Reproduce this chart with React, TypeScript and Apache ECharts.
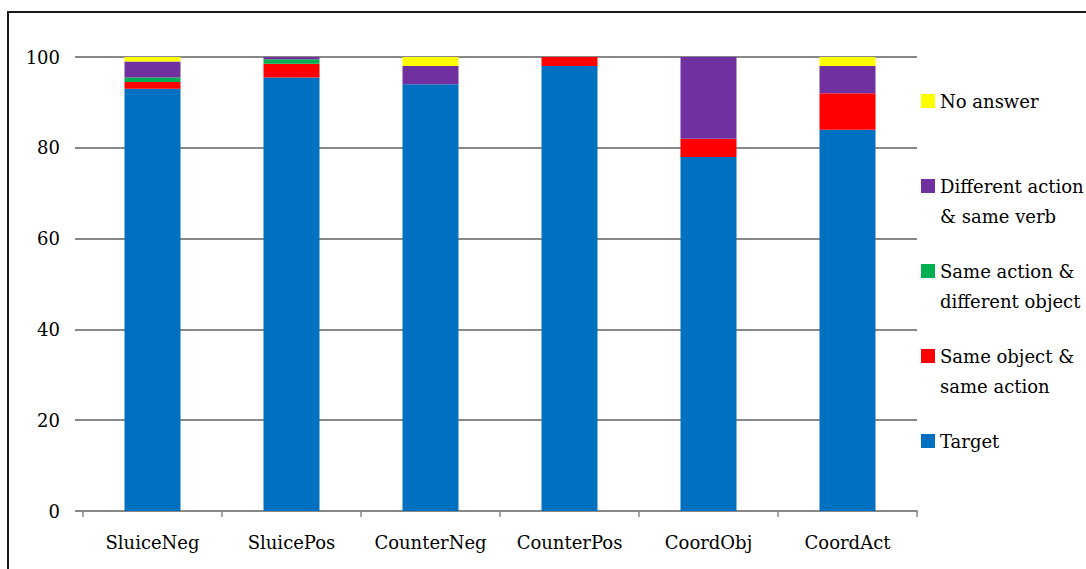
import React, { useEffect, useRef } from "react";
import * as echarts from "echarts";

const categories = ["SluiceNeg", "SluicePos", "CounterNeg", "CounterPos", "CoordObj", "CoordAct"];
const target = [93, 95.5, 94, 98, 78, 84];
const sameObjSameAction = [1.5, 3, 0, 2, 4, 8];
const sameActionDiffObj = [1, 1, 0, 0, 0, 0];
const diffActionSameVerb = [3.5, 0.5, 4, 0, 18, 6];
const noAnswer = [1, 0, 2, 0, 0, 2];
const yTicks = [0, 20, 40, 60, 80, 100];

const FONT = "DejaVu Serif";

export default function App() {
  const ref = useRef<HTMLDivElement>(null);
  useEffect(() => {
    if (!ref.current) return;
    const chart = echarts.init(ref.current, undefined, { renderer: "svg" });
    const names = [
      "No answer",
      "Different action\n& same verb",
      "Same action &\ndifferent object",
      "Same object &\nsame action",
      "Target",
    ];
    const legendLabels = [
      "No answer",
      "\nDifferent action\n& same verb",
      "\nSame action &\ndifferent object",
      "\nSame object &\nsame action",
      "Target",
    ];
    const iconCenters = [101, 186, 271, 356, 441];
    const legends = names.map((n, i) => ({
      data: [n],
      orient: "vertical",
      left: 921,
      top: iconCenters[i] - (n.includes("\n") ? 45 : 15),
      padding: 0,
      itemWidth: 14,
      itemHeight: 14,
      icon: "rect",
      selectedMode: false,
      formatter: () => legendLabels[i],
      textStyle: { fontFamily: FONT, fontSize: 18, color: "#000", lineHeight: 30 },
    }));
    const mk = (name: string, data: number[], color: string) => ({
      name,
      type: "bar",
      stack: "total",
      data,
      barWidth: 56,
      itemStyle: { color },
      emphasis: { disabled: true },
    });
    chart.setOption({
      animation: false,
      grid: { left: 83, right: 169, top: 57, bottom: 58, containLabel: false },
      legend: legends,
      graphic: [
        {
          type: "rect",
          shape: { x: 8, y: 12, width: 1100, height: 600 },
          style: { fill: "none", stroke: "#1a1a1a", lineWidth: 2 },
          silent: true,
        },
      ],
      xAxis: {
        type: "category",
        data: categories,
        axisLine: { show: true, lineStyle: { color: "#888", width: 2 } },
        axisTick: { show: true, length: 6, interval: 0, lineStyle: { color: "#888", width: 1.5 } },
        axisLabel: { fontFamily: FONT, fontSize: 18, color: "#000", margin: 22, interval: 0 },
      },
      yAxis: {
        type: "value",
        min: yTicks[0],
        max: yTicks[yTicks.length - 1],
        interval: 20,
        axisLine: { show: false },
        axisTick: { show: true, length: 8, lineStyle: { color: "#888", width: 2 } },
        splitLine: { show: true, lineStyle: { color: "#888", width: 2 } },
        axisLabel: { fontFamily: FONT, fontSize: 18, color: "#000", margin: 23 },
      },
      series: [
        mk(names[4], target, "#0070C0"),
        mk(names[3], sameObjSameAction, "#FF0000"),
        mk(names[2], sameActionDiffObj, "#00B050"),
        mk(names[1], diffActionSameVerb, "#7030A0"),
        mk(names[0], noAnswer, "#FFFF00"),
      ],
    });
    return () => chart.dispose();
  }, []);
  return (
    <div
      ref={ref}
      style={{ position: "fixed", left: 0, top: 0, width: 1086, height: 569, background: "#fff" }}
    />
  );
}
